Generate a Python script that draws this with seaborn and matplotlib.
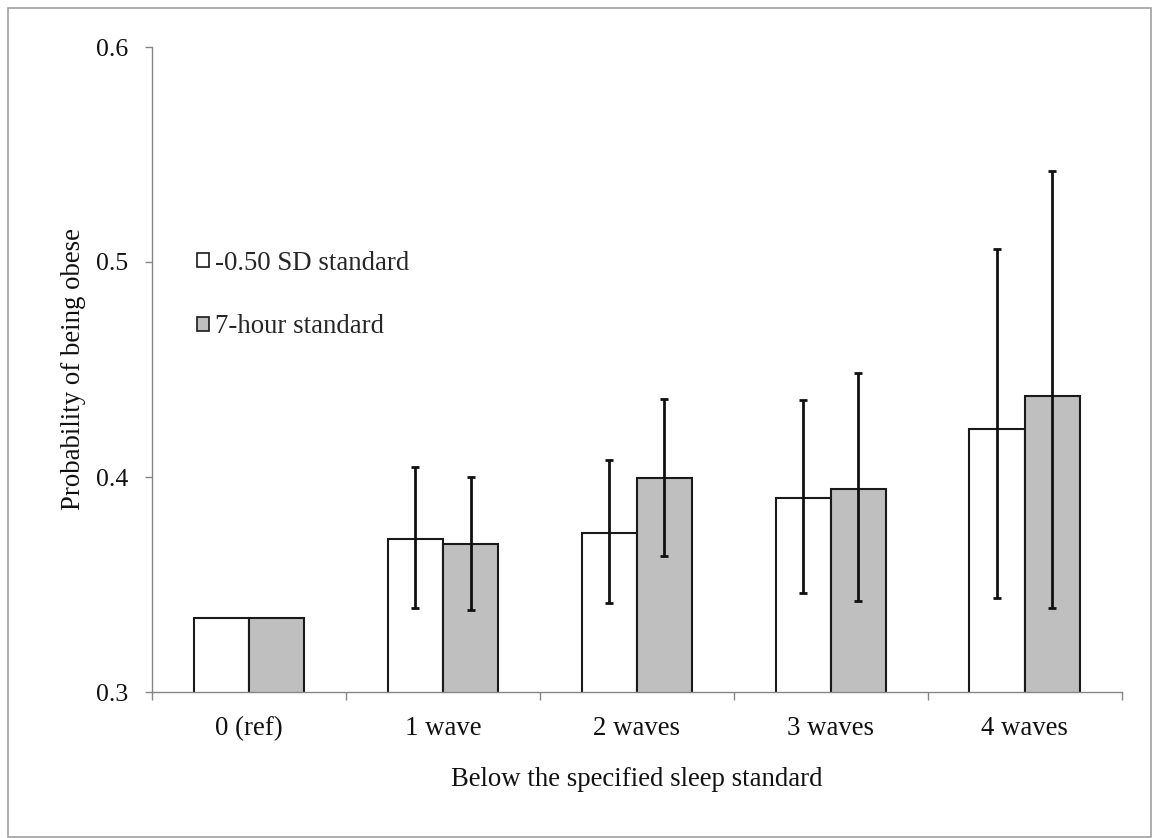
import numpy as np
import pandas as pd
import matplotlib
matplotlib.use("Agg")
import matplotlib.pyplot as plt
from matplotlib.patches import Patch, Rectangle
from matplotlib.container import BarContainer
import seaborn as sns

categories = ['0 (ref)', '1 wave', '2 waves', '3 waves', '4 waves']
series_names = ['-0.50 SD standard', '7-hour standard']
sd_vals = [0.3343, 0.3713, 0.3741, 0.3902, 0.4221]
sd_lo = [np.nan, 0.3392, 0.3414, 0.3462, 0.3435]
sd_hi = [np.nan, 0.4045, 0.4078, 0.4358, 0.5059]
hr_vals = [0.3346, 0.3687, 0.3994, 0.3943, 0.4379]
hr_lo = [np.nan, 0.3380, 0.3634, 0.3422, 0.3390]
hr_hi = [np.nan, 0.4000, 0.4363, 0.4484, 0.5425]
y_ticks = [0.3, 0.4, 0.5, 0.6]

sns.set_theme(style="white")
plt.rcParams['font.family'] = ['Liberation Serif', 'DejaVu Serif']

df = pd.DataFrame({
    'category': categories * 2,
    'series': [series_names[0]] * 5 + [series_names[1]] * 5,
    'value': sd_vals + hr_vals,
})
colors = {series_names[0]: '#ffffff', series_names[1]: '#bfbfbf'}

FS = 19.3

fig = plt.figure(figsize=(11.53, 8.38), dpi=100)
ax = fig.add_axes([152/1153, 1-692/838, (1121.7-152)/1153, (692-47)/838])

sns.barplot(data=df, x='category', y='value', hue='series', order=categories,
            hue_order=series_names, palette=colors, width=0.57, gap=0,
            edgecolor='#1a1a1a', linewidth=1.5, saturation=1, legend=False,
            errorbar=None, ax=ax)

lows = [sd_lo, hr_lo]
highs = [sd_hi, hr_hi]
vals = [sd_vals, hr_vals]
bar_conts = [c for c in ax.containers if isinstance(c, BarContainer)]
for i, cont in enumerate(bar_conts):
    xs = [p.get_x() + p.get_width()/2 for p in cont.patches]
    v = np.array(vals[i]); lo = np.array(lows[i]); hi = np.array(highs[i])
    mask = ~np.isnan(lo)
    ax.errorbar(np.array(xs)[mask], v[mask],
                yerr=[v[mask]-lo[mask], hi[mask]-v[mask]],
                fmt='none', ecolor='#111111', elinewidth=2.0, capsize=3.0,
                capthick=2.0, zorder=5)

ax.set_ylim(0.3, 0.6)
ax.set_xlim(-0.5, 4.5)
ax.set_yticks(y_ticks)
ax.set_yticklabels([f'{t:.1f}' for t in y_ticks])
ax.set_xticks(range(len(categories)))
ax.set_xticklabels(categories)
ax.set_xticks(np.arange(-0.5, 5, 1.0), minor=True)
ax.tick_params(axis='x', which='major', length=0, pad=17, labelsize=FS, colors='#111111')
ax.tick_params(axis='x', which='minor', length=6, width=1, color='#868686', direction='out', bottom=True)
ax.tick_params(axis='y', which='major', length=5, width=1, color='#868686', direction='out',
               left=True, pad=12, labelsize=18.5, labelcolor='#111111')

for s in ['top', 'right']:
    ax.spines[s].set_visible(False)
for s in ['left', 'bottom']:
    ax.spines[s].set_color('#868686')
    ax.spines[s].set_linewidth(1)

ax.set_xlabel('Below the specified sleep standard', fontsize=FS, labelpad=19, color='#111111')
ax.set_ylabel('Probability of being obese', fontsize=FS, labelpad=7, color='#111111')

handles = [Patch(facecolor=colors[n], edgecolor='#1a1a1a', linewidth=1.2, label=n) for n in series_names]
ax.legend(handles=handles, loc='upper left', bbox_to_anchor=(0.035, 0.701), frameon=False,
          fontsize=FS, handlelength=0.45, handleheight=0.45, handletextpad=0.25,
          labelspacing=1.45, borderaxespad=0)

fig.patches.append(Rectangle((8/1153, 1-837/838), (1151-8)/1153, (837-8)/838,
                             transform=fig.transFigure, fill=False,
                             edgecolor='#a0a0a0', linewidth=1.2, zorder=0))

fig.savefig('out.png', dpi=100, facecolor='white')
